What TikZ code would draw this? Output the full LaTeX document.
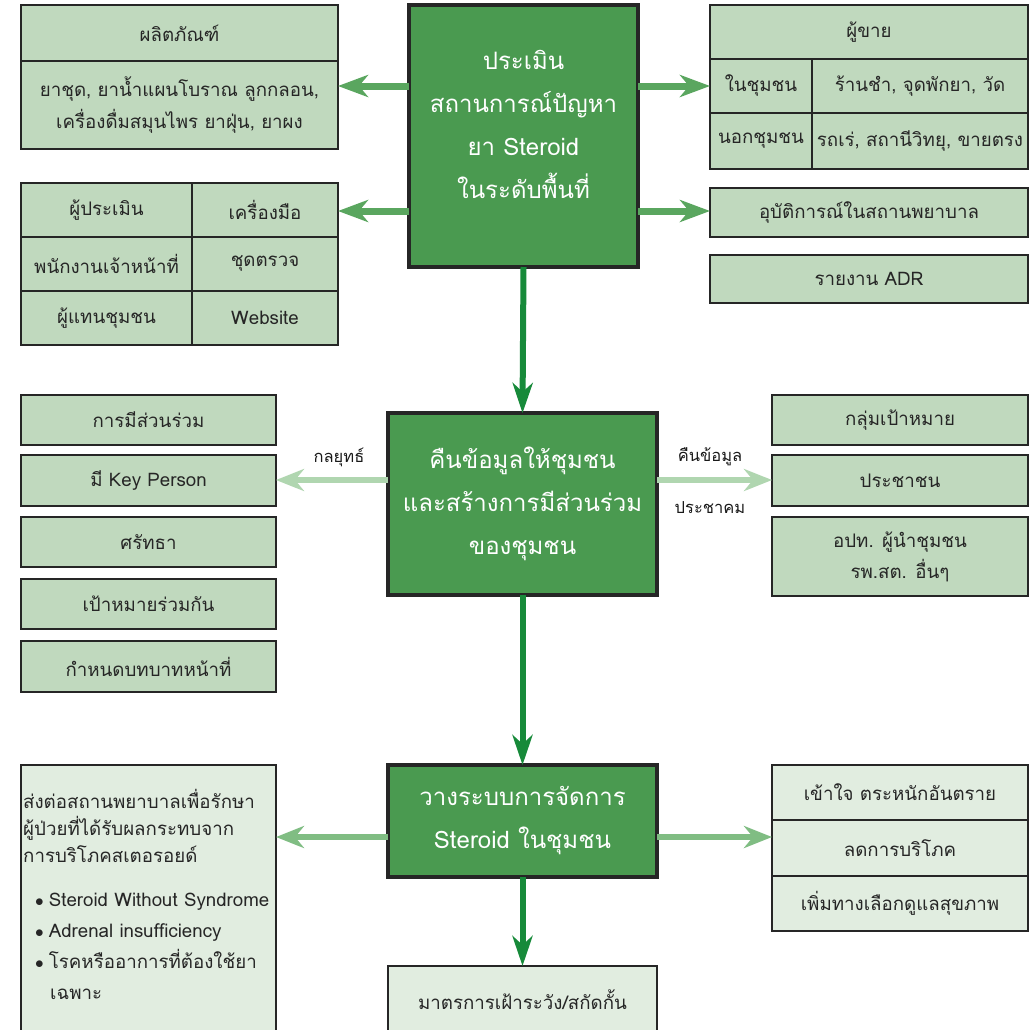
\documentclass[tikz,border=0pt]{standalone}
\usepackage{fontspec}
\setmainfont[Script=Thai]{Loma}
\usetikzlibrary{arrows.meta}
\definecolor{mainG}{HTML}{4A9A50}
\definecolor{lightG}{HTML}{C0D9BE}
\definecolor{paleG}{HTML}{E1EDE0}
\definecolor{arrTop}{HTML}{5AA65F}
\definecolor{arrDark}{HTML}{178A3A}
\definecolor{arrPale}{HTML}{B0D6B0}
\definecolor{arrMid}{HTML}{80BD83}
\definecolor{edgeG}{HTML}{262626}
\newcommand\bx[7]{\node[#1, minimum width=#5pt, minimum height=#6pt] (#2) at (#3,#4) {#7};}
\begin{document}
\begin{tikzpicture}[x=1pt,y=-1pt,
  mainbox/.style={draw=edgeG, line width=3.8pt, fill=mainG, text=white, font=\fontsize{24}{43}\selectfont, align=center, inner sep=0pt, outer sep=0pt, anchor=north west},
  cell/.style={draw=edgeG, line width=1.4pt, fill=lightG, text=black!85, font=\fontsize{18.7}{24}\selectfont, align=center, inner sep=0pt, outer sep=0pt, anchor=north west},
  pcell/.style={cell, fill=paleG},
  lbl/.style={font=\fontsize{16.5}{20}\selectfont, text=black!90, inner sep=0pt},
  arrT/.style={draw=arrTop, line width=7pt, -{Stealth[length=30pt,width=22pt,inset=9pt]}},
  arrD/.style={draw=arrDark, line width=6pt, -{Stealth[length=30pt,width=20pt,inset=9pt]}},
  arrP/.style={draw=arrPale, line width=5.5pt, -{Stealth[length=28pt,width=22pt,inset=9pt]}},
  arrM/.style={draw=arrMid, line width=6pt, -{Stealth[length=28pt,width=22pt,inset=9pt]}}
]
\useasboundingbox[fill=white] (0,0) rectangle (1030,1029);

% ---------- level 1 ----------
\bx{mainbox}{m1}{409}{5}{229}{262}{ประเมิน\\สถานการณ์ปัญหา\\ยา Steroid\\ในระดับพื้นที่\\[-33pt]\strut}

\bx{cell}{prodH}{21}{5}{317}{56}{ผลิตภัณฑ์}
\bx{cell}{prodB}{21}{61}{317}{88}{ยาชุด, ยาน้ำแผนโบราณ ลูกกลอน,\\[6pt]เครื่องดื่มสมุนไพร ยาฝุ่น, ยาผง}

\bx{cell}{a11}{21}{183}{171}{54}{ผู้ประเมิน}
\bx{cell}{a12}{192}{183}{146}{54}{เครื่องมือ}
\bx{cell}{a21}{21}{237}{171}{54}{พนักงานเจ้าหน้าที่}
\bx{cell}{a22}{192}{237}{146}{54}{ชุดตรวจ}
\bx{cell}{a31}{21}{291}{171}{54}{ผู้แทนชุมชน}
\bx{cell}{a32}{192}{291}{146}{54}{Website}

\bx{cell}{sH}{710}{5}{318}{54}{ผู้ขาย}
\bx{cell}{s11}{710}{59}{102}{54}{ในชุมชน}
\bx{cell}{s12}{812}{59}{216}{54}{ร้านชำ, จุดพักยา, วัด}
\bx{cell}{s21}{710}{113}{102}{56}{นอกชุมชน}
\bx{cell}{s22}{812}{113}{216}{56}{รถเร่, สถานีวิทยุ, ขายตรง}
\bx{cell}{inc}{710}{188}{318}{49}{อุบัติการณ์ในสถานพยาบาล}
\bx{cell}{adr}{710}{255}{318}{48}{รายงาน ADR}

\coordinate (yA) at (0,86);
\coordinate (yB) at (0,211);
\draw[arrT] (m1.west |- yA) -- (prodB.east |- yA);
\draw[arrT] (m1.west |- yB) -- (a12.east |- yB);
\draw[arrT] (m1.east |- yA) -- (s11.west |- yA);
\draw[arrT] (m1.east |- yB) -- (inc.west |- yB);

% ---------- level 2 ----------
\bx{mainbox}{m2}{388}{413}{269}{182}{คืนข้อมูลให้ชุมชน\\และสร้างการมีส่วนร่วม\\ของชุมชน}

\bx{cell}{l1}{21}{395}{255}{50}{การมีส่วนร่วม}
\bx{cell}{l2}{21}{455}{255}{51}{มี Key Person}
\bx{cell}{l3}{21}{517}{255}{50}{ศรัทธา}
\bx{cell}{l4}{21}{579}{255}{50}{เป้าหมายร่วมกัน}
\bx{cell}{l5}{21}{641}{255}{51}{กำหนดบทบาทหน้าที่}

\bx{cell}{r1}{772}{395}{256}{50}{กลุ่มเป้าหมาย}
\bx{cell}{r2}{772}{455}{256}{51}{ประชาชน}
\bx{cell}{r3}{772}{517}{256}{79}{อปท. ผู้นำชุมชน\\[6pt]รพ.สต. อื่นๆ}

\coordinate (yC) at (0,480);
\draw[arrP] (m2.west |- yC) -- (l2.east |- yC);
\draw[arrP] (m2.east |- yC) -- (r2.west |- yC);
\node[lbl] (tStrat) at (339,457) {กลยุทธ์};
\node[lbl] (tBack) at (710,457) {คืนข้อมูล};
\node[lbl] (tForum) at (710,508) {ประชาคม};

\draw[arrD] (m1.south) -- (m2.north);

% ---------- level 3 ----------
\bx{mainbox}{m3}{388}{765}{269}{112}{วางระบบการจัดการ\\Steroid ในชุมชน}

\bx{pcell}{refer}{21}{765}{255}{290}{}
\node[anchor=north west, align=left, inner sep=0pt, font=\fontsize{18.7}{27}\selectfont, text=black!85] (referTxt) at (23,789)
 {ส่งต่อสถานพยาบาลเพื่อรักษา\\ผู้ป่วยที่ได้รับผลกระทบจาก\\การบริโภคสเตอรอยด์\\[17pt]
  \hspace*{12pt}$\bullet$\hspace*{5pt}Steroid Without Syndrome\\[4pt]
  \hspace*{12pt}$\bullet$\hspace*{5pt}Adrenal insufficiency\\[4pt]
  \hspace*{12pt}$\bullet$\hspace*{5pt}โรคหรืออาการที่ต้องใช้ยา\\[4pt]
  \hspace*{27pt}เฉพาะ};

\bx{pcell}{b1}{772}{765}{256}{55}{เข้าใจ ตระหนักอันตราย}
\bx{pcell}{b2}{772}{820}{256}{56}{ลดการบริโภค}
\bx{pcell}{b3}{772}{876}{256}{55}{เพิ่มทางเลือกดูแลสุขภาพ}

\bx{pcell}{watch}{388}{966}{269}{90}{}
\node[font=\fontsize{18.7}{24}\selectfont, text=black!85, inner sep=0pt] (watchTxt) at (522.5,1000) {มาตรการเฝ้าระวัง/สกัดกั้น};

\coordinate (yD) at (0,837);
\draw[arrM] (m3.west |- yD) -- (refer.east |- yD);
\draw[arrM] (m3.east |- yD) -- (b1.west |- yD);

\draw[arrD] (m2.south) -- (m3.north);
\draw[arrD] (m3.south) -- (watch.north);
\end{tikzpicture}
\end{document}
